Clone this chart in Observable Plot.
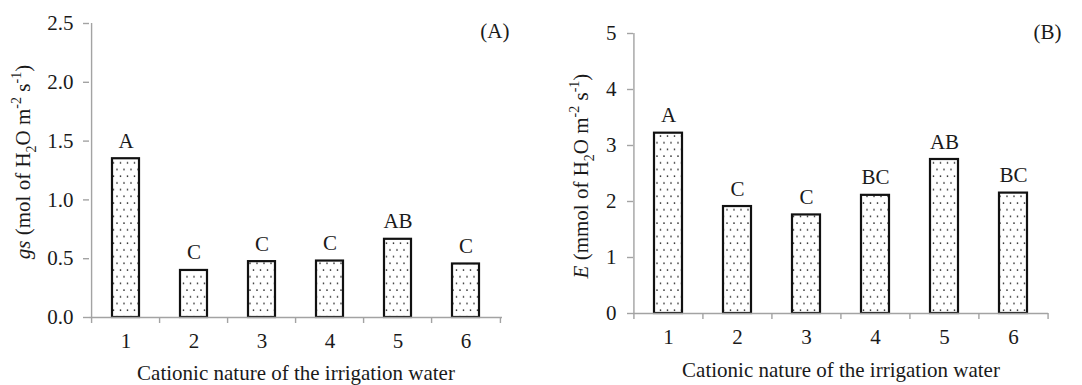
<!DOCTYPE html>
<html><head><meta charset="utf-8">
<script src="https://cdn.jsdelivr.net/npm/d3@7"></script>
<script src="https://cdn.jsdelivr.net/npm/@observablehq/plot@0.6"></script>
<style>
body{margin:0;background:#fff;}
#wrap{display:flex;width:1082px;height:385px;}
#wrap svg, #wrap svg text, #wrap svg tspan{font-family:"Liberation Serif","Times New Roman",serif !important;}
#wrap svg{overflow:visible;}
</style></head><body><div id="wrap"></div>
<script>
const categories = ["1","2","3","4","5","6"];
const gsValues = [1.35, 0.40, 0.475, 0.48, 0.665, 0.455];
const gsLetters = ["A","C","C","C","AB","C"];
const gsTicks = [0, 0.5, 1.0, 1.5, 2.0, 2.5];
const eValues = [3.22, 1.91, 1.76, 2.11, 2.75, 2.15];
const eLetters = ["A","C","C","BC","AB","BC"];
const eTicks = [0, 1, 2, 3, 4, 5];
const xTitle = "Cationic nature of the irrigation water";

const GRAY = "#a3a3a3";
const INK = "#1a1a1a";

function panel(cfg) {
  const data = categories.map((c, i) => ({cat: c, value: cfg.values[i], letter: cfg.letters[i]}));
  const yMax = cfg.ticks[cfg.ticks.length - 1];
  const step = (cfg.width - cfg.ml - cfg.mr) / categories.length;
  const plot = Plot.plot({
    width: cfg.width, height: 385,
    marginLeft: cfg.ml, marginRight: cfg.mr, marginTop: cfg.mt, marginBottom: cfg.mb,
    style: {fontFamily: "'Liberation Serif', 'Times New Roman', serif", background: "white", color: INK},
    x: {type: "band", domain: categories, paddingInner: 0.6, paddingOuter: 0.3, align: 0.5},
    y: {domain: [0, yMax]},
    marks: [
      Plot.barY(data, {x: "cat", y: "value", fill: `url(#${cfg.id})`, stroke: "#111", strokeWidth: 2.2}),
      Plot.ruleY([0], {stroke: GRAY, strokeWidth: 1.4}),
      Plot.ruleX([categories[0]], {y1: 0, y2: yMax, dx: -step / 2, stroke: GRAY, strokeWidth: 1.4}),
      Plot.axisY({ticks: cfg.ticks, tickFormat: cfg.fmt, tickSize: 6, tickPadding: cfg.tp, stroke: GRAY, strokeWidth: 1.4, fill: INK, fontSize: 21, label: null}),
      Plot.axisX({tickSize: 0, tickPadding: cfg.xtp, fill: INK, fontSize: 21, label: null}),
      Plot.axisX({tickSize: 6, dx: -step / 2, stroke: GRAY, strokeWidth: 1.4, fill: "none", label: null}),
      Plot.axisX({ticks: [categories[categories.length - 1]], tickSize: 6, dx: step / 2, stroke: GRAY, strokeWidth: 1.4, fill: "none", label: null}),
      Plot.text(data, {x: "cat", y: "value", text: "letter", dy: -11, lineAnchor: "bottom", fontSize: 21, fill: INK}),
      Plot.text([xTitle], {frameAnchor: "bottom", dy: cfg.tdy, lineAnchor: "middle", fontSize: 21, fill: INK}),
      Plot.text([cfg.tag], {frameAnchor: "top-right", dx: cfg.tagDx, dy: cfg.tagDy, fontSize: 21, fill: INK})
    ]
  });
  const svg = d3.select(plot);
  const defs = svg.insert("defs", ":first-child");
  const pat = defs.append("pattern").attr("id", cfg.id)
    .attr("patternUnits", "userSpaceOnUse").attr("width", 7).attr("height", 13.4);
  pat.append("rect").attr("width", 7).attr("height", 13.4).attr("fill", "white");
  pat.append("circle").attr("cx", 1.5).attr("cy", 2).attr("r", 0.85).attr("fill", "#222");
  pat.append("circle").attr("cx", 5).attr("cy", 8.7).attr("r", 0.85).attr("fill", "#222");

  const t = svg.append("text")
    .attr("transform", `translate(${cfg.yx},${cfg.yy}) rotate(-90)`)
    .attr("text-anchor", "middle").attr("dominant-baseline", "middle")
    .attr("font-size", 21).attr("fill", INK);
  cfg.ylabel.forEach(([s, kind]) => {
    const ts = t.append("tspan").text(s);
    if (kind === "i") ts.attr("font-style", "italic");
    if (kind === "sub") ts.attr("baseline-shift", "sub").attr("font-size", 14);
    if (kind === "sup") ts.attr("baseline-shift", "super").attr("font-size", 14);
  });
  return plot;
}

const wrap = document.getElementById("wrap");
wrap.appendChild(panel({
  id: "dotsA", width: 540, ml: 89, mr: 38, mt: 23, mb: 68,
  values: gsValues, letters: gsLetters, ticks: gsTicks, fmt: d3.format(".1f"),
  tp: 10, xtp: 16, tdy: 56, tag: "(A)", tagDx: 7, tagDy: 0,
  yx: 25, yy: 162,
  ylabel: [["gs", "i"], [" (mol of H", ""], ["2", "sub"], ["O m", ""], ["-2", "sup"], [" s", ""], ["-1", "sup"], [")", ""]]
}));
wrap.appendChild(panel({
  id: "dotsB", width: 542, ml: 93, mr: 34, mt: 33, mb: 72,
  values: eValues, letters: eLetters, ticks: eTicks, fmt: d3.format("d"),
  tp: 11, xtp: 16, tdy: 57, tag: "(B)", tagDx: 13, tagDy: -9,
  yx: 43, yy: 176,
  ylabel: [["E", "i"], [" (mmol of H", ""], ["2", "sub"], ["O m", ""], ["-2", "sup"], [" s", ""], ["-1", "sup"], [")", ""]]
}));
</script></body></html>
